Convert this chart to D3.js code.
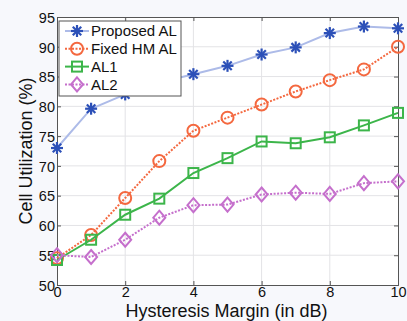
<!DOCTYPE html>
<html>
<head>
<meta charset="utf-8">
<script src="https://cdn.jsdelivr.net/npm/d3@7"></script>
<style>
  html, body { margin: 0; padding: 0; background: #f7f8fc; }
  svg { display: block; font-family: "Liberation Sans", Arial, sans-serif; }
</style>
</head>
<body>
<div id="chart"></div>
<script>
// values
const margins = [0, 1, 2, 3, 4, 5, 6, 7, 8, 9, 10];
const proposedAL = [73.0, 79.6, 82.0, 84.0, 85.4, 86.8, 88.7, 89.9, 92.3, 93.4, 93.1];
const fixedHMAL = [54.5, 58.4, 64.6, 70.8, 75.9, 78.1, 80.3, 82.5, 84.4, 86.2, 90.0];
const al1 = [54.2, 57.6, 61.8, 64.5, 68.8, 71.3, 74.1, 73.8, 74.8, 76.8, 78.9];
const al2 = [55.0, 54.7, 57.6, 61.3, 63.4, 63.5, 65.2, 65.5, 65.3, 67.1, 67.4];
const xTicks = [0, 2, 4, 6, 8, 10];
const yTicks = [50, 55, 60, 65, 70, 75, 80, 85, 90, 95];

const series = [
  { name: "Proposed AL", values: proposedAL, line: "#adbbe8", mark: "#2c50b8", dash: null, shape: "star" },
  { name: "Fixed HM AL", values: fixedHMAL, line: "#f4683f", mark: "#f4683f", dash: "2,1.5", shape: "circle" },
  { name: "AL1", values: al1, line: "#3cb54a", mark: "#3cb54a", dash: null, shape: "square" },
  { name: "AL2", values: al2, line: "#c56fcc", mark: "#c56fcc", dash: "2,1.5", shape: "diamond" }
];

const W = 407, H = 321;
const m = { left: 57, right: 9, top: 17, bottom: 36 };

const svg = d3.select("#chart").append("svg")
  .attr("width", W).attr("height", H);

const x = d3.scaleLinear().domain([0, 10]).range([m.left, W - m.right]);
const y = d3.scaleLinear().domain([50, 95]).range([H - m.bottom, m.top]);

// plot background
svg.append("rect")
  .attr("x", x(0)).attr("y", y(95))
  .attr("width", x(10) - x(0)).attr("height", y(50) - y(95))
  .attr("fill", "#fff");

// grid
svg.append("g")
  .selectAll("line.gx").data(xTicks.slice(1, -1)).enter().append("line")
  .attr("x1", d => x(d)).attr("x2", d => x(d))
  .attr("y1", y(50)).attr("y2", y(95))
  .attr("stroke", "#e3e3e6").attr("stroke-width", 1);
svg.append("g")
  .selectAll("line.gy").data(yTicks.slice(1, -1)).enter().append("line")
  .attr("x1", x(0)).attr("x2", x(10))
  .attr("y1", d => y(d)).attr("y2", d => y(d))
  .attr("stroke", "#e3e3e6").attr("stroke-width", 1);

// axes (ticks inside, MATLAB style)
const axisColor = "#555";
const gx = svg.append("g")
  .attr("transform", `translate(0,${y(50)})`)
  .call(d3.axisBottom(x).tickValues(xTicks).tickSize(-4).tickPadding(2).tickFormat(d3.format("d")));
const gxTop = svg.append("g")
  .attr("transform", `translate(0,${y(95)})`)
  .call(d3.axisTop(x).tickValues(xTicks).tickSize(-4).tickFormat(""));
const gy = svg.append("g")
  .attr("transform", `translate(${x(0)},0)`)
  .call(d3.axisLeft(y).tickValues(yTicks).tickSize(-4).tickPadding(2));
const gyRight = svg.append("g")
  .attr("transform", `translate(${x(10)},0)`)
  .call(d3.axisRight(y).tickValues(yTicks).tickSize(-4).tickFormat(""));

[gx, gxTop, gy, gyRight].forEach(g => {
  g.selectAll("path").attr("stroke", axisColor);
  g.selectAll("line").attr("stroke", axisColor);
  g.selectAll("text").attr("fill", "#111").style("font-size", "14.5px")
    .style("font-family", "'Liberation Sans', Arial, sans-serif");
});
gy.selectAll("text").attr("dy", "0.36em");

// axis titles
svg.append("text")
  .attr("x", (x(0) + x(10)) / 2 - 1).attr("y", 317)
  .attr("text-anchor", "middle")
  .style("font-size", "18px").attr("fill", "#111")
  .text("Hysteresis Margin (in dB)");
svg.append("text")
  .attr("transform", `translate(32,151) rotate(-90)`)
  .attr("text-anchor", "middle")
  .style("font-size", "18px").attr("fill", "#111")
  .text("Cell Utilization (%)");

// markers
function drawMarker(g, shape, color) {
  if (shape === "star") {
    const r = 6;
    [0, 45, 90, 135].forEach(a => {
      const t = a * Math.PI / 180;
      g.append("line")
        .attr("x1", -r * Math.cos(t)).attr("y1", -r * Math.sin(t))
        .attr("x2", r * Math.cos(t)).attr("y2", r * Math.sin(t))
        .attr("stroke", color).attr("stroke-width", 2.2);
    });
  } else if (shape === "circle") {
    g.append("circle").attr("r", 6).attr("fill", "none")
      .attr("stroke", color).attr("stroke-width", 2);
  } else if (shape === "square") {
    g.append("rect").attr("x", -5).attr("y", -5).attr("width", 10).attr("height", 10)
      .attr("fill", "none").attr("stroke", color).attr("stroke-width", 2);
  } else if (shape === "diamond") {
    g.append("path").attr("d", "M0,-7L6,0L0,7L-6,0Z")
      .attr("fill", "none").attr("stroke", color).attr("stroke-width", 2);
  }
}

const line = d3.line().x((d, i) => x(margins[i])).y(d => y(d));

series.forEach(s => {
  svg.append("path")
    .attr("d", line(s.values))
    .attr("fill", "none")
    .attr("stroke", s.line)
    .attr("stroke-width", 2)
    .attr("stroke-dasharray", s.dash);
  s.values.forEach((v, i) => {
    const g = svg.append("g").attr("transform", `translate(${x(margins[i])},${y(v)})`);
    drawMarker(g, s.shape, s.mark);
  });
});

// legend
const lg = svg.append("g").attr("transform", "translate(59,21)");
lg.append("rect").attr("width", 122).attr("height", 75)
  .attr("fill", "#fff").attr("stroke", "#555").attr("stroke-width", 1);
series.forEach((s, i) => {
  const cy = 10 + i * 17.8;
  lg.append("line").attr("x1", 6).attr("x2", 30).attr("y1", cy).attr("y2", cy)
    .attr("stroke", s.line).attr("stroke-width", 2).attr("stroke-dasharray", s.dash);
  drawMarker(lg.append("g").attr("transform", `translate(18,${cy})`), s.shape, s.mark);
  lg.append("text").attr("x", 32).attr("y", cy).attr("dy", "0.36em")
    .style("font-size", "15px").attr("fill", "#111").text(s.name);
});
</script>
</body>
</html>
